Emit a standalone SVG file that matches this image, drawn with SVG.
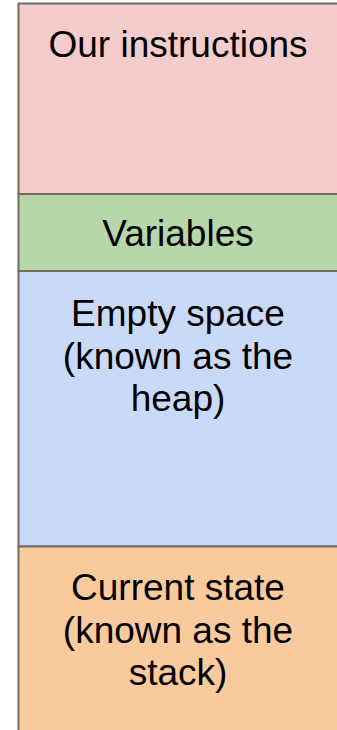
<svg xmlns="http://www.w3.org/2000/svg" width="337" height="730" viewBox="0 0 337 730">
<style>
.box{stroke:#726b5e;stroke-width:2}
.t{font-family:"Liberation Sans",Arial,sans-serif;font-size:37px;fill:#000;text-anchor:middle}
</style>
<rect width="337" height="730" fill="#fff"/>
<g id="instructions">
<rect class="box" x="18.5" y="3.5" width="322" height="190.5" fill="#f4cccc"/>
<text class="t" x="178" y="57">Our instructions</text>
</g>
<g id="variables">
<rect class="box" x="18.5" y="194" width="322" height="77" fill="#b6d7a8"/>
<text class="t" x="178" y="246">Variables</text>
</g>
<g id="heap">
<rect class="box" x="18.5" y="271" width="322" height="275.5" fill="#c9daf8"/>
<text class="t" x="178" y="326">Empty space</text>
<text class="t" x="178" y="368.5">(known as the</text>
<text class="t" x="178" y="411">heap)</text>
</g>
<g id="stack">
<rect class="box" x="18.5" y="546.5" width="322" height="190" fill="#f9cb9c"/>
<text class="t" x="178" y="600">Current state</text>
<text class="t" x="178" y="642.5">(known as the</text>
<text class="t" x="178" y="685">stack)</text>
</g>
<g id="connectors"></g>
</svg>
